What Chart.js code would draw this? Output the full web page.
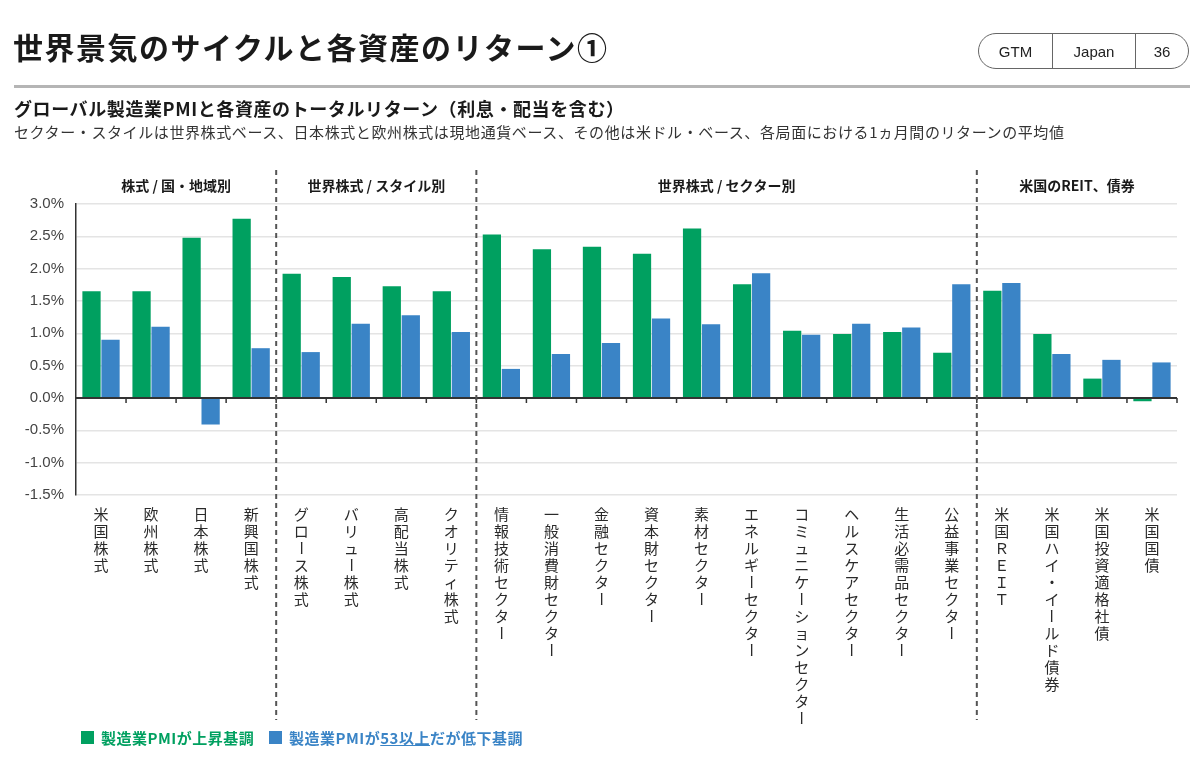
<!DOCTYPE html>
<html><head><meta charset="utf-8">
<script src="https://cdn.jsdelivr.net/npm/chart.js@4/dist/chart.umd.min.js"></script>
<style>
body{margin:0;width:1200px;height:771px;background:#fff;position:relative;overflow:hidden;font-family:"Noto Sans CJK JP","Liberation Sans",sans-serif;color:#1a1a1a}
#c{position:absolute;left:0;top:0}
.t{position:absolute;white-space:nowrap}
#title{left:13px;top:26px;font-size:30px;font-weight:700;letter-spacing:1.5px;line-height:40px}
#pill{position:absolute;left:978px;top:33px;width:209px;height:34px;border:1.5px solid #666;border-radius:18px;display:flex;font-family:"Liberation Sans",sans-serif;font-size:15px;color:#222}
#pill div{display:flex;align-items:center;justify-content:center}
#rule{position:absolute;left:14px;top:85px;width:1176px;height:3px;background:#b5b5b5}
#sub1{left:14px;top:95px;font-size:18px;font-weight:700;line-height:26px;letter-spacing:0.6px}
#sub2{left:14px;top:122px;font-size:15px;line-height:20px;color:#333;letter-spacing:0.6px}
.lg{position:absolute;top:729px;height:16px;display:flex;align-items:center;font-size:15px;font-weight:700;letter-spacing:0.5px}
.sq{width:13px;height:13px;margin-right:7px}
</style></head><body>
<canvas id="c" width="1200" height="771"></canvas>
<div id="title" class="t">世界景気のサイクルと各資産のリターン①</div>
<div id="pill"><div style="width:73px;border-right:1.2px solid #666">GTM</div><div style="width:82px;border-right:1.2px solid #666">Japan</div><div style="flex:1">36</div></div>
<div id="rule"></div>
<div id="sub1" class="t">グローバル製造業PMIと各資産のトータルリターン（利息・配当を含む）</div>
<div id="sub2" class="t">セクター・スタイルは世界株式ベース、日本株式と欧州株式は現地通貨ベース、その他は米ドル・ベース、各局面における1ヵ月間のリターンの平均値</div>
<div class="lg" style="left:81px;color:#00a060"><div class="sq" style="background:#00a060"></div>製造業PMIが上昇基調</div>
<div class="lg" style="left:269px;color:#3a84c6"><div class="sq" style="background:#3a84c6"></div>製造業PMIが<span style="text-decoration:underline">53以上</span>だが低下基調</div>
<script>
const categories = ['米国株式','欧州株式','日本株式','新興国株式','グロース株式','バリュー株式','高配当株式','クオリティ株式','情報技術セクター','一般消費財セクター','金融セクター','資本財セクター','素材セクター','エネルギーセクター','コミュニケーションセクター','ヘルスケアセクター','生活必需品セクター','公益事業セクター','米国ＲＥＩＴ','米国ハイ・イールド債券','米国投資適格社債','米国国債'];
const pmiRising = [1.65,1.65,2.48,2.77,1.92,1.87,1.73,1.65,2.53,2.30,2.34,2.23,2.62,1.76,1.04,0.99,1.02,0.70,1.66,0.99,0.30,-0.05];
const pmiFalling = [0.90,1.10,-0.41,0.77,0.71,1.15,1.28,1.02,0.45,0.68,0.85,1.23,1.14,1.93,0.98,1.15,1.09,1.76,1.78,0.68,0.59,0.55];
const seriesNames = ['製造業PMIが上昇基調','製造業PMIが53以上だが低下基調'];
const groupNames = ['株式 / 国・地域別','世界株式 / スタイル別','世界株式 / セクター別','米国のREIT、債券'];
const groupSizes = [4,4,10,4];
const yTicks = [-1.5,-1.0,-0.5,0.0,0.5,1.0,1.5,2.0,2.5,3.0];

const GREEN='#00a060', BLUE='#3a84c6';
const deco = {
  id:'deco',
  afterDatasetsDraw(chart){
    const ctx=chart.ctx, x=chart.scales.x, y=chart.scales.y, a=chart.chartArea;
    const y0=y.getPixelForValue(0);
    ctx.save();
    ctx.strokeStyle='#333'; ctx.lineWidth=2;
    ctx.beginPath(); ctx.moveTo(a.left,y0); ctx.lineTo(a.right,y0); ctx.stroke();
    ctx.lineWidth=1.5;
    const n=categories.length;
    for(let i=0;i<n;i++){
      const bx=(i<n-1)?(x.getPixelForValue(i)+x.getPixelForValue(i+1))/2:a.right;
      ctx.beginPath(); ctx.moveTo(bx,y0); ctx.lineTo(bx,y0+5); ctx.stroke();
    }
    let start=0;
    ctx.font='700 14px "Noto Sans CJK JP", sans-serif';
    ctx.fillStyle='#1a1a1a'; ctx.textAlign='center'; ctx.textBaseline='middle';
    groupSizes.forEach((s,g)=>{
      const l=(start===0)?a.left:(x.getPixelForValue(start-1)+x.getPixelForValue(start))/2;
      const end=start+s-1;
      const r=(end===n-1)?a.right:(x.getPixelForValue(end)+x.getPixelForValue(end+1))/2;
      ctx.fillText(groupNames[g],(l+r)/2,186);
      if(end<n-1){
        ctx.save(); ctx.setLineDash([5,4]); ctx.strokeStyle='#555'; ctx.lineWidth=2;
        ctx.beginPath(); ctx.moveTo(r,170); ctx.lineTo(r,720); ctx.stroke(); ctx.restore();
      }
      start+=s;
    });
    ctx.font='15px "Noto Sans CJK JP", sans-serif';
    ctx.fillStyle='#2a2a2a';
    categories.forEach((lab,i)=>{
      const px=x.getPixelForValue(i);
      [...lab].forEach((ch,j)=>{
        const cy=514+j*17;
        if(ch==='ー'){
          ctx.save(); ctx.translate(px,cy); ctx.rotate(Math.PI/2); ctx.fillText(ch,0,0); ctx.restore();
        } else ctx.fillText(ch,px,cy);
      });
    });
    ctx.restore();
  }
};

new Chart(document.getElementById('c'),{
  type:'bar',
  data:{labels:categories,datasets:[
    {label:seriesNames[0],data:pmiRising,backgroundColor:GREEN,borderWidth:0},
    {label:seriesNames[1],data:pmiFalling,backgroundColor:BLUE,borderWidth:0}
  ]},
  options:{
    responsive:false,animation:false,devicePixelRatio:1,
    layout:{padding:{left:0,top:204,right:23,bottom:276}},
    datasets:{bar:{categoryPercentage:0.76,barPercentage:0.96}},
    plugins:{legend:{display:false},tooltip:{enabled:false}},
    scales:{
      x:{ticks:{display:false},grid:{display:false},border:{display:false},afterFit(s){s.height=0;}},
      y:{min:-1.5,max:3.0,
        afterBuildTicks(s){s.ticks=yTicks.map(v=>({value:v}));},
        afterFit(s){s.width=76;},
        ticks:{padding:12,color:'#444',font:{family:'"Liberation Sans", sans-serif',size:15},callback:v=>v.toFixed(1)+'%'},
        grid:{color:'#e4e4e4',lineWidth:1.5,drawTicks:false},
        border:{display:true,color:'#333',width:1.5}}
    }
  },
  plugins:[deco]
});
</script>
</body></html>
